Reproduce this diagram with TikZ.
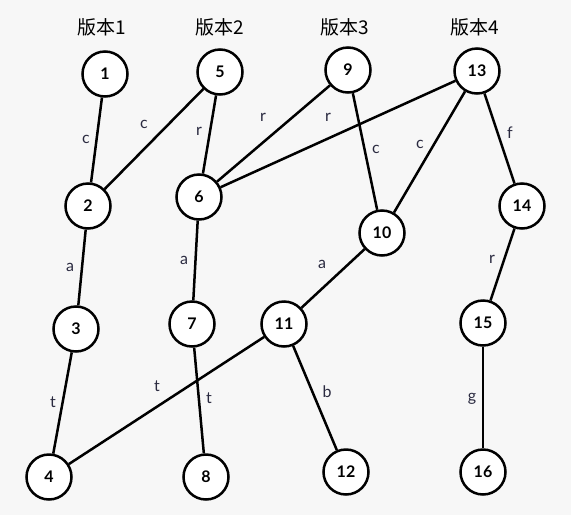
\documentclass[tikz,border=0pt]{standalone}
\usepackage{fontspec}
\setmainfont{Lato}
\newfontfamily\cjk{Noto Sans CJK SC}
\definecolor{bg}{HTML}{F7F7F7}
\definecolor{lblc}{HTML}{2A2A40}
\begin{document}
\begin{tikzpicture}[x=1pt,y=-1pt,
  vtx/.style={circle,draw=black,fill=white,line width=2.5pt,minimum size=45pt,inner sep=0pt,font=\fontsize{16}{16}\selectfont\bfseries},
  edge/.style={line width=2.5pt,draw=black},
  lbl/.style={text=lblc,font=\fontsize{16}{16}\selectfont,inner sep=0pt},
  ttl/.style={font=\cjk\fontsize{19}{19}\selectfont,inner sep=0pt}]
\fill[bg] (0,0) rectangle (571,515);
\useasboundingbox (0,0) rectangle (571,515);
% titles
\node[ttl] (t1) at (102,27) {版本1};
\node[ttl] (t2) at (220,27) {版本2};
\node[ttl] (t3) at (345,27) {版本3};
\node[ttl] (t4) at (475,27) {版本4};
% nodes
\node[vtx] (n1) at (105,74) {1};
\node[vtx] (n5) at (220,72) {5};
\node[vtx] (n9) at (348,70) {9};
\node[vtx] (n13) at (477,71) {13};
\node[vtx] (n2) at (88,206) {2};
\node[vtx] (n6) at (199,197) {6};
\node[vtx] (n10) at (382,233) {10};
\node[vtx] (n14) at (522,206) {14};
\node[vtx] (n3) at (76,329) {3};
\node[vtx] (n7) at (192,324) {7};
\node[vtx] (n11) at (284,324) {11};
\node[vtx] (n15) at (483,323) {15};
\node[vtx] (n4) at (49,477) {4};
\node[vtx] (n8) at (206,477) {8};
\node[vtx] (n12) at (346,472) {12};
\node[vtx] (n16) at (483,472) {16};
% edges
\draw[edge] (n1) -- (n2);
\draw[edge] (n5) -- (n2);
\draw[edge] (n5) -- (n6);
\draw[edge] (n9) -- (n6);
\draw[edge] (n13) -- (n6);
\draw[edge] (n9) -- (n10);
\draw[edge] (n13) -- (n10);
\draw[edge] (n13) -- (n14);
\draw[edge] (n2) -- (n3);
\draw[edge] (n6) -- (n7);
\draw[edge] (n10) -- (n11);
\draw[edge] (n14) -- (n15);
\draw[edge] (n3) -- (n4);
\draw[edge] (n11) -- (n4);
\draw[edge] (n7) -- (n8);
\draw[edge] (n11) -- (n12);
\draw[edge] (n15) -- (n16);
% labels
\node[lbl] (l12) at (86,139) {c};
\node[lbl] (l52) at (144,124) {c};
\node[lbl] (l56) at (199,131) {r};
\node[lbl] (l96) at (263,117) {r};
\node[lbl] (l136) at (328,117) {r};
\node[lbl] (l910) at (376,149) {c};
\node[lbl] (l1310) at (420,144) {c};
\node[lbl] (l1314) at (510,133) {f};
\node[lbl] (l23) at (70,267) {a};
\node[lbl] (l67) at (184,260) {a};
\node[lbl] (l1011) at (322,264) {a};
\node[lbl] (l1415) at (492,259) {r};
\node[lbl] (l34) at (53,402) {t};
\node[lbl] (l114) at (157,386) {t};
\node[lbl] (l78) at (209,398) {t};
\node[lbl] (l1112) at (327,392) {b};
\node[lbl] (l1516) at (472,399) {g};
\end{tikzpicture}
\end{document}
